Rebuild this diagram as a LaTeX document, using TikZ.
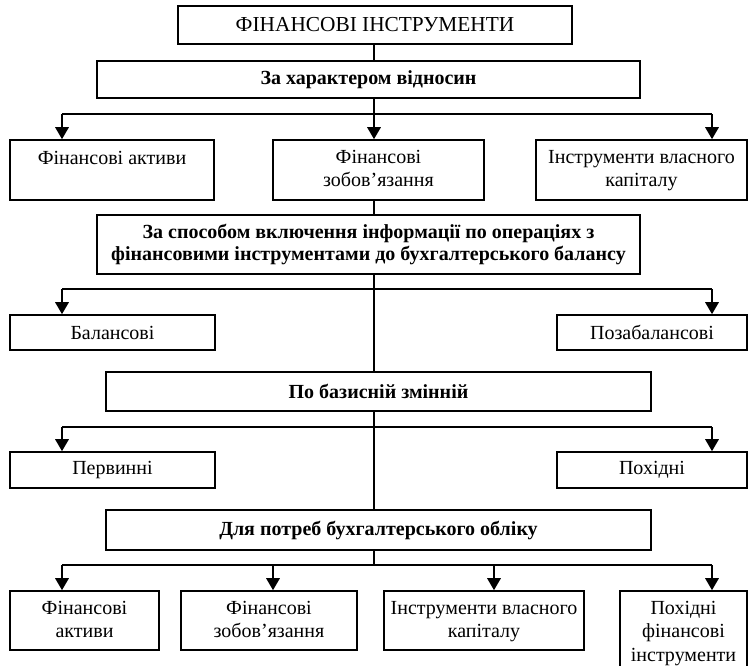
\documentclass[tikz,border=0pt]{standalone}
\usepackage{fontspec}
\setmainfont{Liberation Serif}
\usetikzlibrary{positioning,fit,arrows.meta}

\tikzset{
  frame/.style={draw, line width=1.2pt, inner sep=0pt},
  plain/.style={font=\fontsize{15}{17.5}\selectfont, align=center, inner sep=0pt},
  heading/.style={font=\bfseries\fontsize{15}{17}\selectfont, align=center, inner sep=0pt},
  spine/.style={line width=0.9pt},
  bar/.style={line width=1.6pt},
  drop/.style={line width=1.6pt, -{Triangle[length=9pt,width=10pt]}}
}

\begin{document}
\begin{tikzpicture}[x=0.75pt,y=-0.75pt]
  \useasboundingbox (0,0) rectangle (748,665);

  % boxes
  \node[frame, fit={(178,6) (572,44)}] (root) {};
  \node[frame, fit={(97,61) (640,98)}] (cls1) {};
  \node[frame, fit={(10,140) (214,200)}] (fa1) {};
  \node[frame, fit={(273,140) (484,200)}] (fz1) {};
  \node[frame, fit={(536,140) (747,200)}] (ik1) {};
  \node[frame, fit={(97,215) (640,274)}] (cls2) {};
  \node[frame, fit={(10,315) (215,350)}] (bal) {};
  \node[frame, fit={(557,315) (747,350)}] (poza) {};
  \node[frame, fit={(106,372) (651,411)}] (cls3) {};
  \node[frame, fit={(10,452) (215,488)}] (perv) {};
  \node[frame, fit={(557,452) (747,488)}] (pokh) {};
  \node[frame, fit={(106,510) (651,550)}] (cls4) {};
  \node[frame, fit={(10,591) (159,650)}] (fa2) {};
  \node[frame, fit={(181,591) (357,650)}] (fz2) {};
  \node[frame, fit={(384,591) (584,650)}] (ik2) {};
  \node[frame, fit={(620,591) (747,690)}] (pfi) {};

  % texts
  \node[plain, font=\fontsize{16}{18}\selectfont] (root-t) at (root) {ФІНАНСОВІ ІНСТРУМЕНТИ};
  \node[heading] (cls1-t) at (cls1) {За характером відносин};
  \node[plain, below=8.5pt of fa1.north] (fa1-t) {Фінансові активи};
  \node[plain, below=8pt of fz1.north] (fz1-t) {Фінансові\\зобов’язання};
  \node[plain, below=8pt of ik1.north] (ik1-t) {Інструменти власного\\капіталу};
  \node[heading] (cls2-t) at (cls2) {За способом включення інформації по операціях з\\фінансовими інструментами до бухгалтерського балансу};
  \node[plain] (bal-t) at (bal) {Балансові};
  \node[plain] (poza-t) at (poza) {Позабалансові};
  \node[heading] (cls3-t) at (cls3) {По базисній змінній};
  \node[plain] (perv-t) at (perv) {Первинні};
  \node[plain] (pokh-t) at (pokh) {Похідні};
  \node[heading] (cls4-t) at (cls4) {Для потреб бухгалтерського обліку};
  \node[plain, below=8pt of fa2.north] (fa2-t) {Фінансові\\активи};
  \node[plain, below=8pt of fz2.north] (fz2-t) {Фінансові\\зобов’язання};
  \node[plain, below=8pt of ik2.north] (ik2-t) {Інструменти власного\\капіталу};
  \node[plain, below=8pt of pfi.north] (pfi-t) {Похідні\\фінансові\\інструменти};

  % spine
  \coordinate (axis) at (374,0);
  \draw[spine] (root.south -| axis) -- (cls1.north -| axis);
  \draw[spine] (cls1.south -| axis) -- (axis |- 0,114);
  \draw[spine] (fz1.south -| axis) -- (cls2.north -| axis);
  \draw[spine] (cls2.south -| axis) -- (cls3.north -| axis);
  \draw[spine] (cls3.south -| axis) -- (cls4.north -| axis);
  \draw[spine] (cls4.south -| axis) -- (axis |- 0,565);

  % bars
  \coordinate (b1l) at (62,114);  \coordinate (b1r) at (712,114);
  \coordinate (b2l) at (62,289);  \coordinate (b2r) at (712,289);
  \coordinate (b3l) at (62,427);  \coordinate (b3r) at (712,427);
  \coordinate (b4l) at (62,565);  \coordinate (b4r) at (712,565);
  \foreach \n in {1,2,3,4} { \draw[bar] (b\n l) -- (b\n r); }

  % arrows
  \foreach \x/\tgt in {62/fa1,374/fz1,712/ik1}
    \draw[drop] (\x,114) -- (\tgt.north -| \x,0);
  \foreach \x/\tgt in {62/bal,712/poza}
    \draw[drop] (\x,289) -- (\tgt.north -| \x,0);
  \foreach \x/\tgt in {62/perv,712/pokh}
    \draw[drop] (\x,427) -- (\tgt.north -| \x,0);
  \foreach \x/\tgt in {62/fa2,273/fz2,494/ik2,712/pfi}
    \draw[drop] (\x,565) -- (\tgt.north -| \x,0);
\end{tikzpicture}
\end{document}
